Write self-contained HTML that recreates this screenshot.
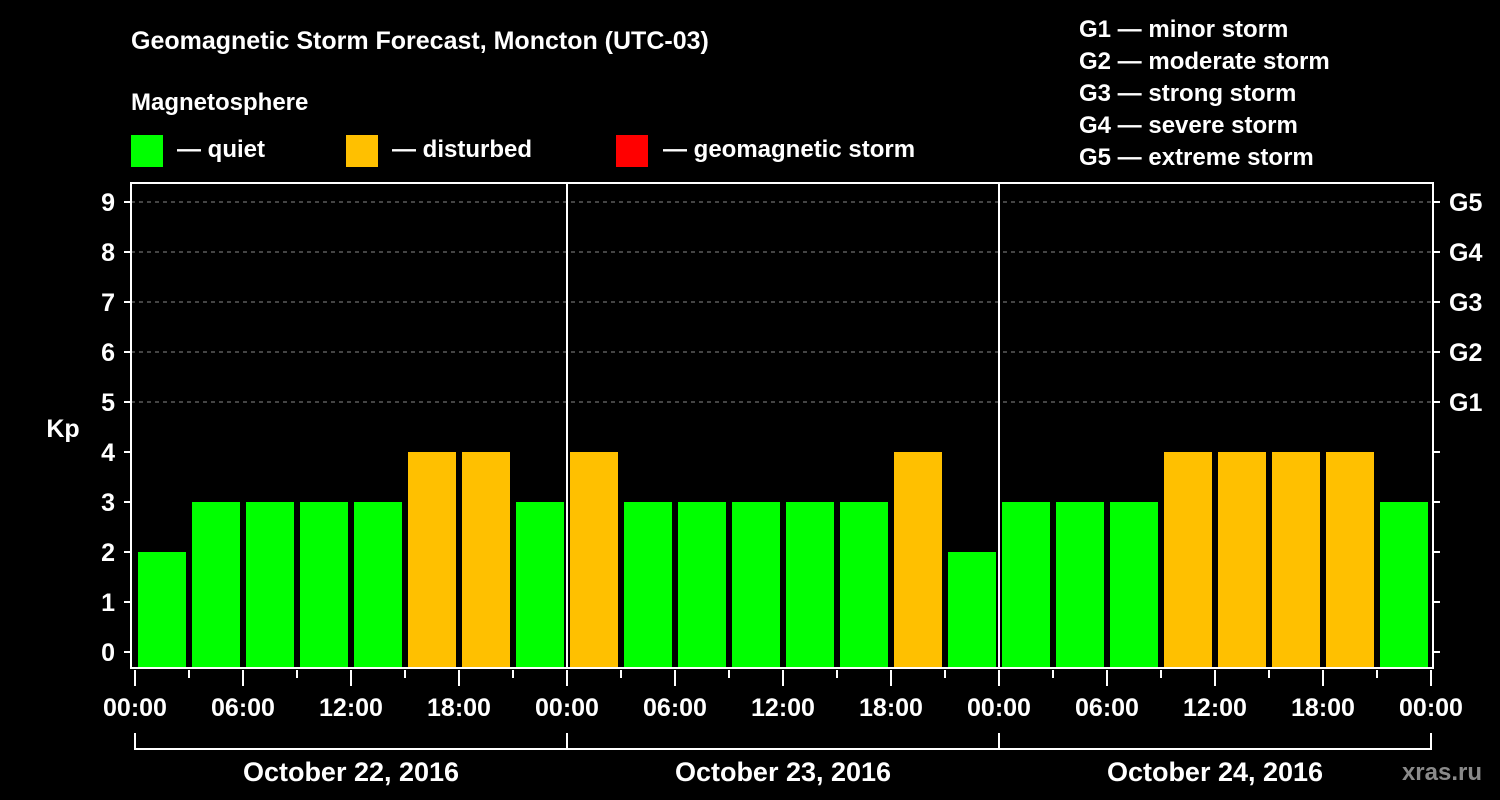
<!DOCTYPE html>
<html><head><meta charset="utf-8"><style>
html,body{margin:0;padding:0;background:#000}
svg{display:block}
text{font-family:"Liberation Sans",sans-serif;font-weight:bold;fill:#fff}
</style></head><body>
<svg id="chart" width="1500" height="800" viewBox="0 0 1500 800" xmlns="http://www.w3.org/2000/svg">
<rect width="1500" height="800" fill="#000"/>
<text x="131" y="49" font-size="25">Geomagnetic Storm Forecast, Moncton (UTC-03)</text>
<text x="131" y="110" font-size="24">Magnetosphere</text>
<g>
<rect x="131" y="135" width="32" height="32" fill="#00ff00"/>
<text x="177" y="157" font-size="24">— quiet</text>
<rect x="346" y="135" width="32" height="32" fill="#ffc000"/>
<text x="392" y="157" font-size="24">— disturbed</text>
<rect x="616" y="135" width="32" height="32" fill="#ff0000"/>
<text x="663" y="157" font-size="24">— geomagnetic storm</text>
</g>
<g font-size="24">
<text x="1079" y="37">G1 — minor storm</text>
<text x="1079" y="69">G2 — moderate storm</text>
<text x="1079" y="101">G3 — strong storm</text>
<text x="1079" y="133">G4 — severe storm</text>
<text x="1079" y="165">G5 — extreme storm</text>
</g>
<text x="63" y="437" font-size="25" text-anchor="middle">Kp</text>
<text x="1482" y="780" font-size="24" text-anchor="end" fill="#888" style="fill:#8a8a8a">xras.ru</text>
<g id="grid"></g><g id="bars"></g><g id="axes"></g>
</svg>
<script>
const days = ["October 22, 2016","October 23, 2016","October 24, 2016"];
const kpValues = [2,3,3,3,3,4,4,3, 4,3,3,3,3,3,4,2, 3,3,3,4,4,4,4,3];
const yTicks = [0,1,2,3,4,5,6,7,8,9];
const gLabels = ["G1","G2","G3","G4","G5"];
const gLevels = [5,6,7,8,9];
const hourLabels = ["00:00","06:00","12:00","18:00"];

const NS="http://www.w3.org/2000/svg";
const x0=135, pxPerHour=18, plotL=131, plotR=1433, plotT=183, plotB=668;
const xs=h=>x0+h*pxPerHour;
const ys=v=>652-v*50;
function mk(tag,attrs,parent){const e=document.createElementNS(NS,tag);for(const k in attrs)e.setAttribute(k,attrs[k]);document.getElementById(parent).appendChild(e);return e;}

// grid
gLevels.forEach(v=>{
  const l=mk('line',{x1:plotL,x2:plotR,y1:ys(v),y2:ys(v),stroke:'#888','stroke-dasharray':'4,4','stroke-width':1},'grid');
  
  
});
// bars
kpValues.forEach((v,i)=>{
  const color=v>=5?'#ff0000':(v>=4?'#ffc000':'#00ff00');
  const r=mk('rect',{x:xs(i*3)+3,y:ys(v),width:48,height:plotB-ys(v),fill:color},'bars');
  
  
});
// frame
const fr=mk('rect',{x:plotL,y:plotT,width:plotR-plotL,height:plotB-plotT,fill:'none',stroke:'#fff','stroke-width':2},'axes');


days.forEach((d,i)=>{
  if(i>0){
    const s=mk('line',{x1:xs(i*24),x2:xs(i*24),y1:plotT,y2:plotB,stroke:'#fff','stroke-width':2},'axes');
    
    
  }
  const t=mk('text',{x:xs(i*24+12),y:781,'font-size':27,'text-anchor':'middle'},'axes');
  t.textContent=d;
  
  
  const b=mk('path',{d:`M${xs(i*24)} 733V749H${xs(i*24+24)}`+(i==2?'V733':''),stroke:'#fff','stroke-width':2,fill:'none'},'axes');
  
  
});
// y ticks
yTicks.forEach(v=>{
  const l=mk('line',{x1:124,x2:plotL,y1:ys(v),y2:ys(v),stroke:'#fff','stroke-width':2},'axes');
  
  
  const r=mk('line',{x1:plotR,x2:plotR+7,y1:ys(v),y2:ys(v),stroke:'#fff','stroke-width':2},'axes');
  
  
  const t=mk('text',{x:115,y:ys(v)+9,'font-size':25,'text-anchor':'end'},'axes');
  t.textContent=v;
  
  
});
gLabels.forEach((g,i)=>{
  const t=mk('text',{x:1449,y:ys(gLevels[i])+9,'font-size':25},'axes');
  t.textContent=g;
  
  
});
// x ticks
for(let h=0;h<=72;h+=3){
  const major=h%6===0;
  const l=mk('line',{x1:xs(h),x2:xs(h),y1:plotB+2,y2:major?686:678,stroke:'#fff','stroke-width':2},'axes');
  
  
  if(major){
    const t=mk('text',{x:xs(h),y:716,'font-size':25,'text-anchor':'middle'},'axes');
    t.textContent=hourLabels[(h/6)%4];
    
    
  }
}
</script>
</body></html>
